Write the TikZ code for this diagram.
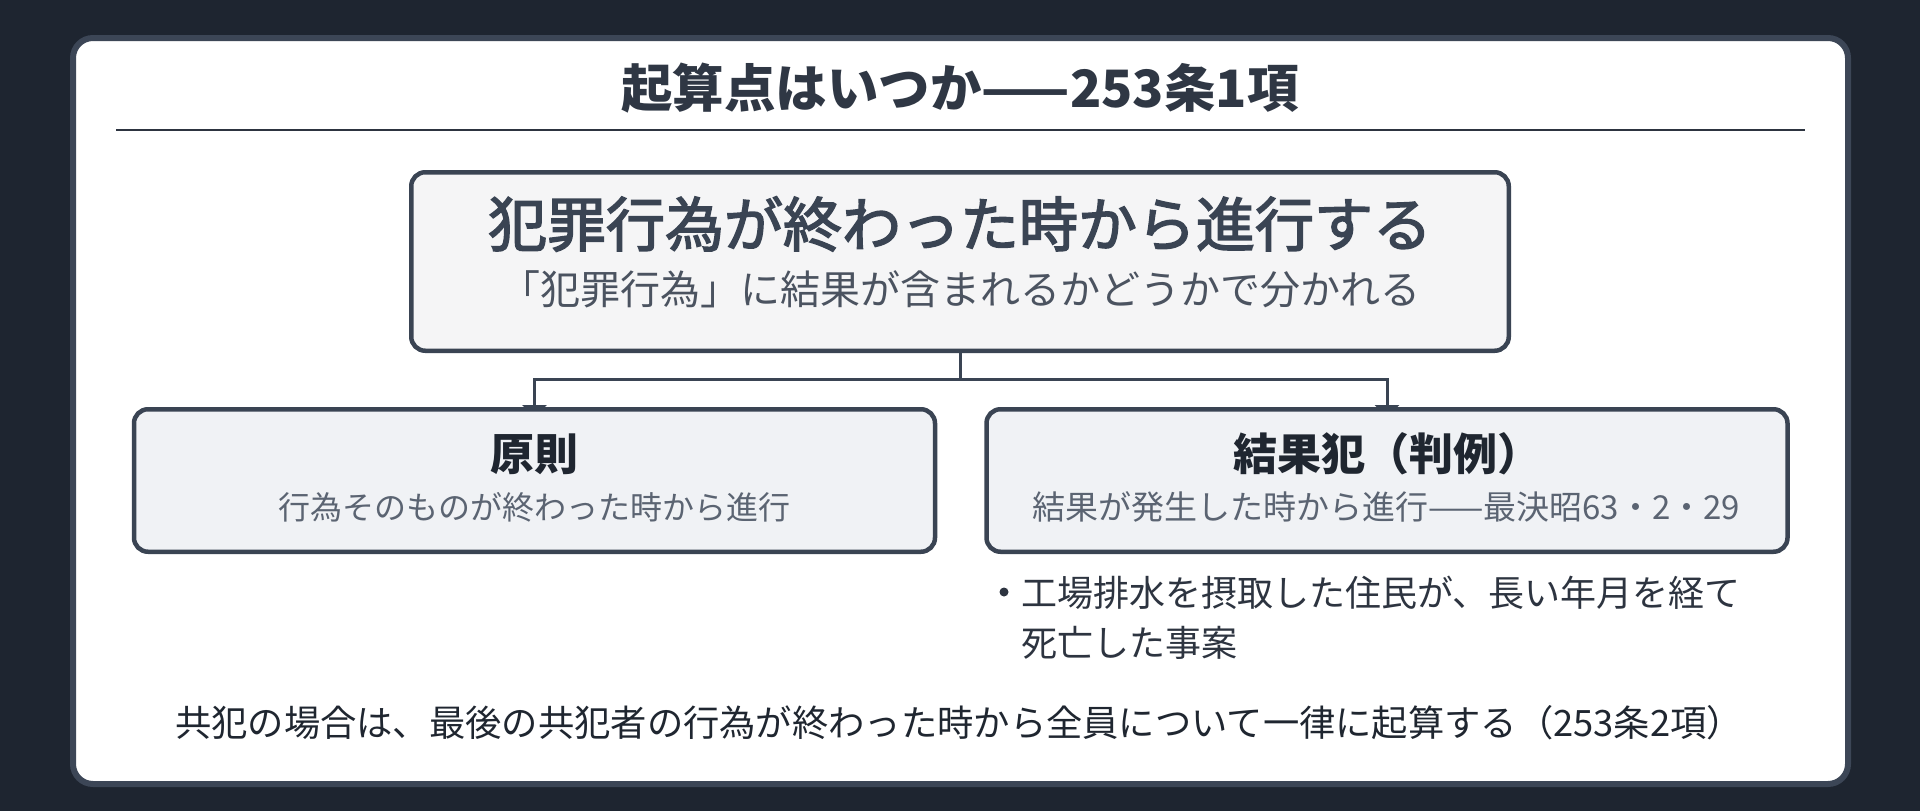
\documentclass[tikz,border=0pt]{standalone}
\usepackage{fontspec}
\setmainfont{Noto Sans CJK JP}
\newfontfamily\headfont[FakeBold=2.5]{Noto Sans CJK JP}
\usetikzlibrary{arrows.meta,positioning}

\definecolor{bgdark}{HTML}{1E2530}
\definecolor{cardline}{HTML}{3C4656}
\definecolor{boxline}{HTML}{3A4453}
\definecolor{mainfill}{HTML}{F5F5F6}
\definecolor{casefill}{HTML}{F0F2F5}
\definecolor{titletext}{HTML}{2F3744}
\definecolor{headtext}{HTML}{3A4453}
\definecolor{subtext}{HTML}{4B5360}
\definecolor{casetext}{HTML}{1F2630}
\definecolor{casesub}{HTML}{5B6472}
\definecolor{bodytext}{HTML}{2D3440}

\pgfdeclarelayer{back}
\pgfdeclarelayer{lines}
\pgfsetlayers{back,lines,main}

\begin{document}
\begin{tikzpicture}[x=1pt,y=-1pt,
  box/.style={draw=boxline, line width=4.5pt, rounded corners=14pt, inner sep=0pt},
  mainbox/.style={box, fill=mainfill, minimum width=1097.5pt, minimum height=178.5pt},
  casebox/.style={box, fill=casefill, minimum width=801pt, minimum height=142.5pt},
  conn/.style={draw=boxline, line width=3pt, shorten >=-10pt, -{Triangle[width=24pt,length=12pt]}},
  label/.style={inner sep=0pt}]

  \begin{pgfonlayer}{back}
  \fill [bgdark] (0,0) rectangle (1920,811);
  \draw [line width=6pt, draw=cardline, fill=white, rounded corners=20pt] (73,38) rectangle (1848,784);
  \draw [line width=2.5pt, color=bodytext] (116,130) -- (1805,130);
  \end{pgfonlayer}

  \node [label, text=titletext, font=\fontsize{51.5pt}{58pt}\selectfont\bfseries] (title) at (960,88) {起算点はいつか——253条1項};

  % main rule
  \node [mainbox] (main) at (960,261.5) {};
  \node [label, text=headtext, font=\fontsize{59pt}{66pt}\selectfont\headfont] (mainhead) at (960,224) {犯罪行為が終わった時から進行する};
  \node [label, text=subtext, font=\fontsize{40pt}{48pt}\selectfont] (mainsub) at (960,289) {「犯罪行為」に結果が含まれるかどうかで分かれる};

  % two cases
  \node [casebox] (rule) at (534.5,480.5) {};
  \node [casebox] (result) at (1387,480.5) {};
  \node [label, text=casetext, font=\fontsize{44pt}{50pt}\selectfont\bfseries] (rulehead) at (534.5,454) {原則};
  \node [label, text=casesub, font=\fontsize{32pt}{36pt}\selectfont] (rulesub) at (534.5,507) {行為そのものが終わった時から進行};
  \node [label, text=casetext, font=\fontsize{44pt}{50pt}\selectfont\bfseries] (resulthead) at (1387,454) {結果犯（判例）};
  \node [label, text=casesub, font=\fontsize{33pt}{36pt}\selectfont] (resultsub) at (1386,507) {結果が発生した時から進行——最決昭63・2・29};

  \begin{pgfonlayer}{lines}
  \draw [conn] (main.south) -- ++(0,26) -| (rule.north);
  \draw [conn] (main.south) -- ++(0,26) -| (result.north);
  \end{pgfonlayer}

  % example case
  \node [circle, fill=bodytext, minimum size=9pt, inner sep=0pt] (dot) at (1004,592) {};
  \node [label, text=bodytext, anchor=west, align=left, font=\fontsize{36pt}{50pt}\selectfont] (example) at (1021,618) {工場排水を摂取した住民が、長い年月を経て\\死亡した事案};

  \node [label, text=casetext, font=\fontsize{36.3pt}{42pt}\selectfont] (joint) at (959,723) {共犯の場合は、最後の共犯者の行為が終わった時から全員について一律に起算する（253条2項）};

\end{tikzpicture}
\end{document}
